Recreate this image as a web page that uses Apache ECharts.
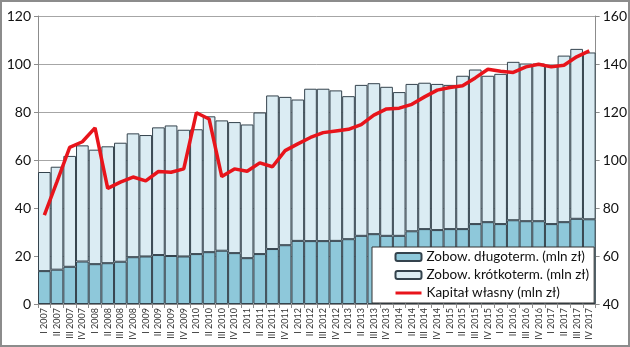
<!DOCTYPE html>
<html>
<head>
<meta charset="utf-8">
<script src="https://cdn.jsdelivr.net/npm/echarts@6/dist/echarts.min.js"></script>
<style>
html,body{margin:0;padding:0;background:#fff;}
#c{width:630px;height:347px;}
</style>
</head>
<body>
<div id="c"></div>
<script>
var categories = [
 "I 2007","II 2007","III 2007","IV 2007",
 "I 2008","II 2008","III 2008","IV 2008",
 "I 2009","II 2009","III 2009","IV 2009",
 "I 2010","II 2010","III 2010","IV 2010",
 "I 2011","II 2011","III 2011","IV 2011",
 "I 2012","II 2012","III 2012","IV 2012",
 "I 2013","II 2013","III 2013","IV 2013",
 "I 2014","II 2014","III 2014","IV 2014",
 "I 2015","II 2015","III 2015","IV 2015",
 "I 2016","II 2016","III 2016","IV 2016",
 "I 2017","II 2017","III 2017","IV 2017"
];
var longTerm = [
 13.7,14.3,15.5,17.7, 16.6,17.0,17.6,19.5, 19.8,20.4,20.0,19.8,
 20.8,21.6,22.2,21.2, 19.1,20.8,22.9,24.5, 26.3,26.2,26.2,26.3,
 27.0,28.4,29.1,28.4, 28.4,30.3,31.2,30.8, 31.2,31.2,33.3,34.1,
 33.3,34.9,34.5,34.5, 33.3,34.1,35.5,35.3
];
var shortTerm = [
 41.3,42.9,46.2,48.4, 47.7,48.7,49.6,51.6, 50.6,53.2,54.4,52.8,
 52.0,56.6,54.3,54.6, 55.7,59.0,64.0,61.8, 58.9,63.5,63.5,62.7,
 59.6,62.9,62.9,62.1, 59.9,61.4,61.0,60.9, 60.1,63.9,64.4,61.0,
 62.6,66.0,65.7,65.7, 66.2,69.4,70.8,69.5
];
var equity = [
 77.0,91.0,105.3,107.6, 113.4,88.2,90.8,92.9, 91.3,95.2,94.9,96.3,
 119.7,117.1,93.1,96.3, 95.3,98.8,97.2,103.9, 106.7,109.4,111.4,112.1,
 112.8,114.7,118.7,121.3, 121.6,123.2,126.3,129.1, 130.2,130.9,134.2,137.8,
 137.0,136.5,138.8,139.9, 138.8,139.5,143.0,145.5
];
var seriesNames = ["Zobow. długoterm. (mln zł)", "Zobow. krótkoterm. (mln zł)", "Kapitał własny (mln zł)"];

var chart = echarts.init(document.getElementById('c'), null, {renderer:'canvas'});
var font = 'Lato, "Open Sans", sans-serif';
chart.setOption({
  animation: false,
  backgroundColor: '#ffffff',
  textStyle: {fontFamily: font},
  grid: {left: 38, right: 34, top: 16, bottom: 43, containLabel: false},
  graphic: [{
    type: 'rect', silent: true, z: 100,
    shape: {x: 1, y: 1, width: 628, height: 345},
    style: {fill: 'none', stroke: '#8c8c8c', lineWidth: 2}
  }],
  legend: {
    orient: 'vertical',
    left: 372, top: 247,
    backgroundColor: '#ffffff',
    borderColor: '#333333', borderWidth: 1,
    padding: [3, 5, 3, 22],
    itemGap: 4,
    itemWidth: 26, itemHeight: 8,
    textStyle: {fontFamily: font, fontSize: 13.5, color: '#111'},
    data: [
      {name: seriesNames[0]},
      {name: seriesNames[1]},
      {name: seriesNames[2], itemStyle: {color: 'rgba(0,0,0,0)', borderColor: 'rgba(0,0,0,0)', borderWidth: 0}, lineStyle: {color: '#e8141b', width: 3}}
    ]
  },
  xAxis: {
    type: 'category',
    data: categories,
    axisLine: {lineStyle: {color: '#8c8c8c'}},
    axisTick: {show: true, length: 4, lineStyle: {color: '#8c8c8c'}},
    axisLabel: {interval: 0, rotate: 90, fontSize: 9, color: '#333', margin: 4, fontFamily: font}
  },
  yAxis: [{
    type: 'value', min: 0, max: 120, interval: 20,
    axisLine: {show: true, lineStyle: {color: '#8c8c8c'}},
    axisTick: {show: true, length: 4, lineStyle: {color: '#8c8c8c'}},
    axisLabel: {fontSize: 14, color: '#111', margin: 7, fontFamily: font},
    splitLine: {lineStyle: {color: '#a6a6a6'}}
  }, {
    type: 'value', min: 40, max: 160, interval: 20,
    axisLine: {show: true, lineStyle: {color: '#8c8c8c'}},
    axisTick: {show: true, length: 4, lineStyle: {color: '#8c8c8c'}},
    axisLabel: {fontSize: 14, color: '#111', margin: 7, fontFamily: font},
    splitLine: {show: false}
  }],
  series: [{
    name: seriesNames[0], type: 'bar', stack: 'a',
    barCategoryGap: '0%',
    itemStyle: {color: '#8ec8da', borderColor: '#34434d', borderWidth: 1},
    data: longTerm
  }, {
    name: seriesNames[1], type: 'bar', stack: 'a',
    barCategoryGap: '0%',
    itemStyle: {color: '#dbecf3', borderColor: '#34434d', borderWidth: 1},
    data: shortTerm
  }, {
    name: seriesNames[2], type: 'line', yAxisIndex: 1,
    symbol: 'none', showSymbol: false,
    lineStyle: {color: '#e8141b', width: 3.5},
    itemStyle: {color: '#e8141b'},
    data: equity, z: 5
  }]
});
</script>
</body>
</html>
